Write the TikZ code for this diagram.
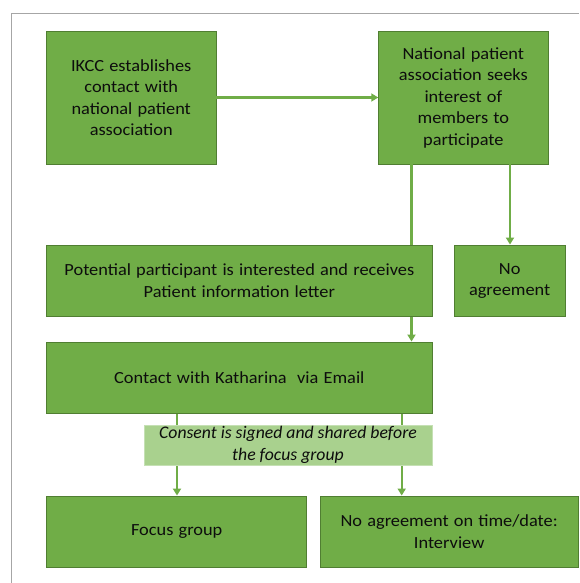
\documentclass[tikz,border=0pt]{standalone}
\usepackage{fontspec}
\setmainfont{Carlito}[FakeStretch=1.08, WordSpace=1.25]
\newfontfamily\notefont{Carlito}
\usetikzlibrary{arrows.meta,calc}
\definecolor{boxgreen}{HTML}{70AD47}
\definecolor{boxedge}{HTML}{507E32}
\definecolor{notefill}{HTML}{A9D18E}
\definecolor{noteedge}{HTML}{C5E0B4}
\definecolor{framegray}{HTML}{A6A6A6}
\definecolor{ink}{HTML}{0D0D0D}
\tikzset{
  stepbox/.style={draw=boxedge, line width=0.9pt, fill=boxgreen, text=ink,
    align=center, inner sep=0pt, font=\fontsize{17}{21.5}\selectfont},
  notebox/.style={draw=noteedge, line width=0.9pt, fill=notefill, text=ink,
    align=center, inner sep=0pt, font=\notefont\fontsize{17.7}{21.8}\selectfont\itshape},
  flow/.style={draw=boxgreen, line width=2.2pt},
  flowarrow/.style={flow, -{Triangle[width=8pt,length=7pt]}},
}
\begin{document}
\begin{tikzpicture}[x=1pt,y=-1pt]
\useasboundingbox (0,0) rectangle (579,583);
\fill[white] (0,0) rectangle (579,583);
% page frame
\draw[framegray, line width=0.8pt] (11,583) -- (11,13) -- (579,13);

% process steps
\node[stepbox, minimum width=169.5pt, minimum height=133pt] (ikcc) at (131.25,97.5)
  {IKCC establishes\\contact with\\national patient\\association};
\node[stepbox, minimum width=169.3pt, minimum height=133pt] (assoc) at (463.35,97.5)
  {National patient\\association seeks\\interest of\\members to\\participate};
\node[stepbox, minimum width=385.3pt, minimum height=71.7pt] (interest) at (239.35,280.85)
  {Potential participant is interested and receives\\Patient information letter};
\node[stepbox, minimum width=111.3pt, minimum height=71.7pt] (noagr) at (509.65,280.85)
  {No\\agreement};
\node[stepbox, minimum width=385.3pt, minimum height=71.3pt] (contact) at (239.35,377.65)
  {Contact with Katharina\ \ via Email};
\node[stepbox, minimum width=260pt, minimum height=71.7pt] (focus) at (176.7,531.85)
  {Focus group};
\node[stepbox, minimum width=258.3pt, minimum height=71.7pt] (interview) at (449.15,531.85)
  {No agreement on time/date:\\Interview};

% connector columns
\coordinate (colA) at (411.5,0);
\coordinate (colB) at (510,0);
\coordinate (colC) at (177,0);
\coordinate (colD) at (401.7,0);

\draw[flowarrow] (ikcc.east) -- (assoc.west);
\draw[flow] (assoc.south -| colA) -- (interest.north -| colA);
\draw[flowarrow] (assoc.south -| colB) -- (noagr.north -| colB);
\draw[flowarrow] (interest.south -| colA) -- (contact.north -| colA);
\draw[flowarrow] (contact.south -| colC) -- (focus.north -| colC);
\draw[flowarrow] (contact.south -| colD) -- (interview.north -| colD);

% consent note laid over both branches
\node[notebox, minimum width=288pt, minimum height=40pt] (consent) at (288,445)
  {Consent is signed and shared before\\the focus group};
\end{tikzpicture}
\end{document}
